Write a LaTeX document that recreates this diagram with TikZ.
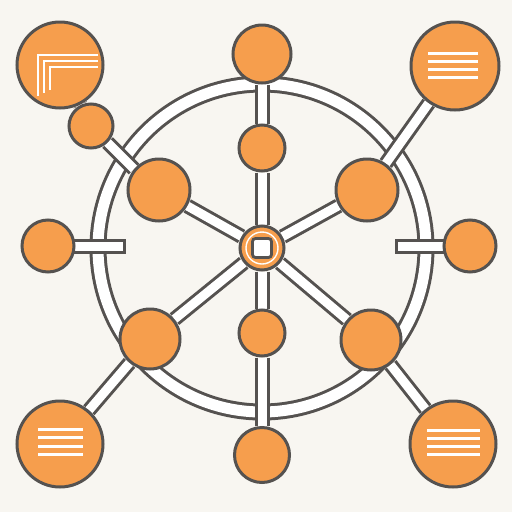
\documentclass[tikz,border=0pt]{standalone}
\usetikzlibrary{backgrounds}
\definecolor{bgc}{HTML}{F8F6F1}
\definecolor{org}{HTML}{F69E4D}
\definecolor{drk}{HTML}{555250}
\pgfdeclarelayer{rods}
\pgfsetlayers{background,rods,main}
\tikzset{
  ball/.style={circle,draw=drk,line width=3pt,fill=org,inner sep=0pt,minimum size=#1},
  rod/.style={draw=drk,line width=3pt,double=white,double distance=9pt},
  stub/.style={rod,line cap=rect},
  icon/.style={draw=white,line width=3pt},
}
\begin{document}
\begin{tikzpicture}[x=1pt,y=-1pt]
\begin{pgfonlayer}{background}
\fill[bgc] (0,0) rectangle (512,512);
\end{pgfonlayer}
\useasboundingbox (0,0) rectangle (512,512);
% nodes
\node[ball=44pt] (C) at (262,248) {};
\node[ball=58pt] (T) at (262,54) {};
\node[ball=46pt] (Ti) at (262,148) {};
\node[ball=46pt] (Bi) at (262,333) {};
\node[ball=55pt] (B) at (262,455) {};
\node[ball=52pt] (L) at (48,246) {};
\node[ball=52pt] (R) at (470,246) {};
\node[ball=62pt] (UL) at (159,190) {};
\node[ball=62pt] (UR) at (367,190) {};
\node[ball=60pt] (LL) at (150,339) {};
\node[ball=60pt] (LR) at (371,340) {};
\node[ball=86pt] (TLb) at (60,65) {};
\node[ball=44pt] (TLs) at (91,126) {};
\node[ball=88pt] (TRb) at (455,66) {};
\node[ball=86pt] (BLb) at (60,444) {};
\node[ball=86pt] (BRb) at (453,444) {};
\coordinate (Lend) at (118,246);
\coordinate (Rend) at (402,246);
% center decoration
\draw[white,line width=1.4pt] (C.center) circle (16);
\node[draw=drk,fill=white,line width=2.8pt,minimum size=19pt,inner sep=0pt,rounded corners=3pt] (Csq) at (C.center) {};
% icons
\foreach \y in {53,61,69,77} \draw[icon] (428,\y) -- (478,\y);
\foreach \y in {429,437,446,454} \draw[icon] (38,\y) -- (83,\y);
\foreach \y in {430,438,446,454} \draw[icon] (427,\y) -- (480,\y);
\draw[icon,line width=2pt] (38,96) -- (38,55) -- (98,55);
\draw[icon,line width=2pt] (44,93) -- (44,61) -- (98,61);
\draw[icon,line width=2pt] (50,90) -- (50,67) -- (98,67);
% ring and rods
\begin{pgfonlayer}{rods}
\draw[draw=drk,line width=17pt] (262,248) circle (164);
\draw[draw=white,line width=11pt] (262,248) circle (164);
\draw[rod] (C) -- (Ti);
\draw[rod] (Ti) -- (T);
\draw[rod] (C) -- (Bi);
\draw[rod] (Bi) -- (B);
\draw[rod] (C) -- (UL);
\draw[rod] (C) -- (UR);
\draw[rod] (C) -- (LL);
\draw[rod] (C) -- (LR);
\draw[rod] (TLb) -- (TLs);
\draw[rod] (TLs) -- (UL.140);
\draw[rod] (TRb) -- (UR);
\draw[rod] (LL) -- (BLb);
\draw[rod] (LR) -- (BRb);
\draw[stub] (L) -- (Lend);
\draw[stub] (R) -- (Rend);
\end{pgfonlayer}
\end{tikzpicture}
\end{document}
